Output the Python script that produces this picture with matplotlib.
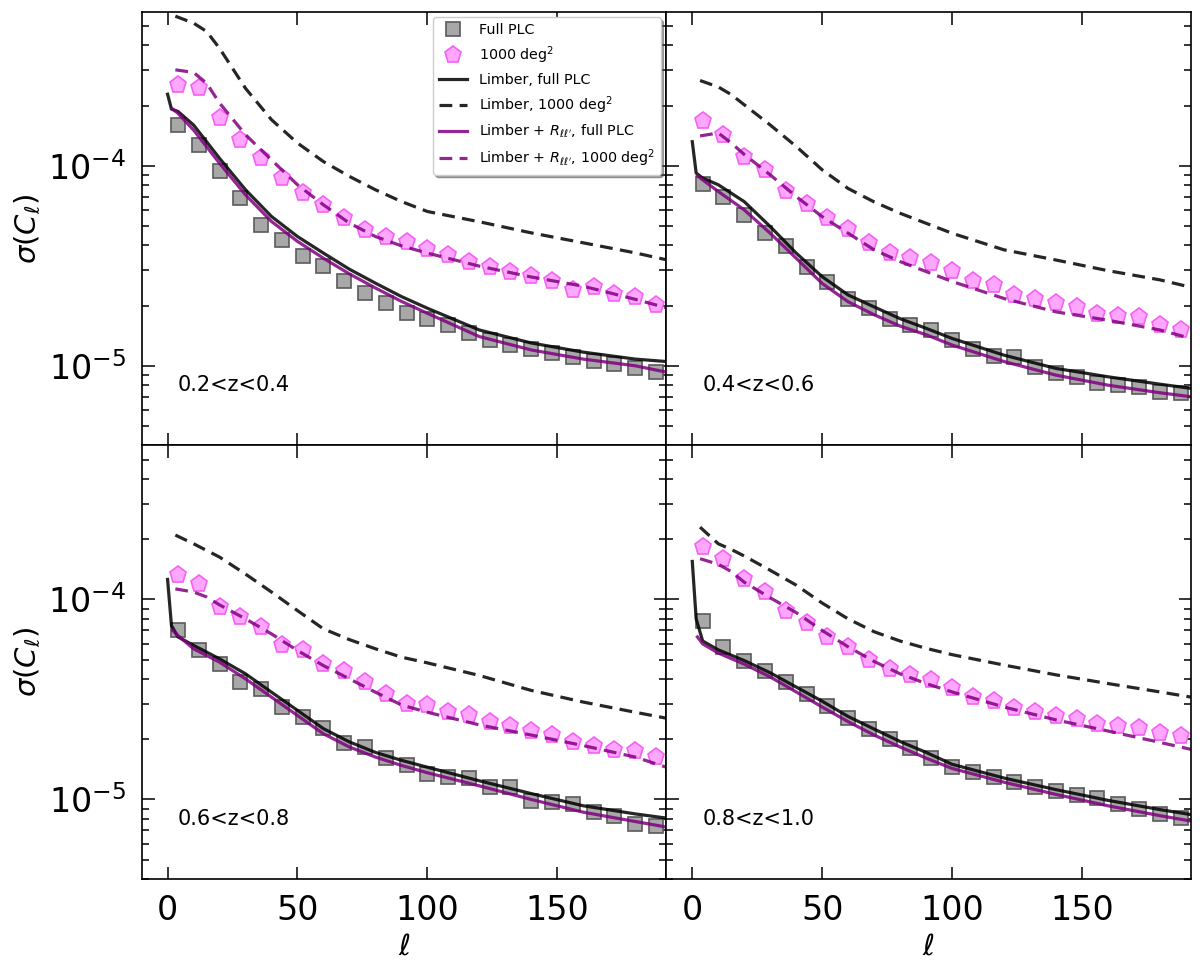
import matplotlib
matplotlib.use("Agg")
import matplotlib.pyplot as plt

# multipole positions
ell_bins = [4, 12, 20, 28, 36, 44, 52, 60, 68, 76, 84, 92, 100, 108, 116, 124,
            132, 140, 148, 156, 164, 172, 180, 188]
ell_solid = [0, 1.5, 4, 10, 20, 30, 40, 50, 60, 70, 80, 90, 100, 120, 140, 160, 180, 192]
ell_rll = [2, 4, 10, 20, 30, 40, 50, 60, 70, 80, 90, 100, 120, 140, 160, 180, 192]
ell_dash = [3, 10, 15, 20, 30, 40, 50, 60, 70, 80, 90, 100, 120, 140, 160, 180, 192]

z_labels = ["0.2<z<0.4", "0.4<z<0.6", "0.6<z<0.8", "0.8<z<1.0"]

# 0.2<z<0.4
full_z1 = [1.60e-4, 1.27e-4, 9.37e-5, 6.9e-5, 5.07e-5, 4.27e-5, 3.55e-5, 3.14e-5, 2.64e-5, 2.31e-5,
           2.06e-5, 1.83e-5, 1.71e-5, 1.60e-5, 1.46e-5, 1.35e-5, 1.27e-5, 1.22e-5, 1.16e-5, 1.11e-5,
           1.06e-5, 1.02e-5, 9.8e-6, 9.3e-6]
deg_z1 = [2.54e-4, 2.44e-4, 1.73e-4, 1.35e-4, 1.09e-4, 8.68e-5, 7.3e-5, 6.38e-5, 5.47e-5, 4.79e-5,
          4.4e-5, 4.14e-5, 3.83e-5, 3.59e-5, 3.31e-5, 3.13e-5, 2.95e-5, 2.82e-5, 2.66e-5, 2.4e-5,
          2.48e-5, 2.29e-5, 2.21e-5, 2.02e-5]
limb_full_z1 = [2.28e-4, 1.92e-4, 1.87e-4, 1.6e-4, 1.09e-4, 7.59e-5, 5.58e-5, 4.43e-5, 3.66e-5,
                3.04e-5, 2.59e-5, 2.22e-5, 1.94e-5, 1.51e-5, 1.30e-5, 1.17e-5, 1.08e-5, 1.05e-5]
limb_deg_z1 = [5.6e-4, 5.17e-4, 4.7e-4, 3.87e-4, 2.44e-4, 1.7e-4, 1.3e-4, 1.05e-4, 8.85e-5, 7.59e-5,
               6.63e-5, 5.91e-5, 5.25e-5, 4.62e-5, 4.12e-5, 3.67e-5, 3.39e-5]
rll_full_z1 = [1.92e-4, 1.83e-4, 1.51e-4, 1.03e-4, 7.16e-5, 5.27e-5, 4.19e-5, 3.45e-5, 2.88e-5,
               2.45e-5, 2.1e-5, 1.83e-5, 1.40e-5, 1.2e-5, 1.08e-5, 1.0e-5, 9.3e-6]
rll_deg_z1 = [3.02e-4, 2.93e-4, 2.59e-4, 2.06e-4, 1.43e-4, 1.07e-4, 8.04e-5, 6.38e-5, 5.17e-5,
              4.43e-5, 3.98e-5, 3.66e-5, 3.15e-5, 2.78e-5, 2.5e-5, 2.15e-5, 1.95e-5]

# 0.4<z<0.6
full_z2 = [8.09e-5, 7.02e-5, 5.69e-5, 4.6e-5, 3.95e-5, 3.13e-5, 2.61e-5, 2.15e-5, 1.94e-5, 1.71e-5,
           1.6e-5, 1.51e-5, 1.35e-5, 1.22e-5, 1.12e-5, 1.11e-5, 9.9e-6, 9.2e-6, 8.8e-6, 8.2e-6,
           8.0e-6, 7.85e-6, 7.41e-6, 7.27e-6]
deg_z2 = [1.67e-4, 1.43e-4, 1.11e-4, 9.48e-5, 7.52e-5, 6.45e-5, 5.47e-5, 4.82e-5, 4.13e-5, 3.66e-5,
          3.45e-5, 3.26e-5, 2.99e-5, 2.64e-5, 2.54e-5, 2.26e-5, 2.15e-5, 2.05e-5, 1.96e-5, 1.82e-5,
          1.77e-5, 1.75e-5, 1.6e-5, 1.51e-5]
limb_full_z2 = [1.32e-4, 9.2e-5, 8.68e-5, 8.04e-5, 6.62e-5, 4.97e-5, 3.66e-5, 2.79e-5, 2.26e-5,
                1.97e-5, 1.72e-5, 1.54e-5, 1.37e-5, 1.13e-5, 9.7e-6, 8.81e-6, 8.09e-6, 7.71e-6]
limb_deg_z2 = [2.67e-4, 2.48e-4, 2.27e-4, 2.02e-4, 1.6e-4, 1.25e-4, 9.55e-5, 7.7e-5, 6.6e-5,
               5.79e-5, 5.16e-5, 4.6e-5, 3.8e-5, 3.38e-5, 2.99e-5, 2.69e-5, 2.47e-5]
rll_full_z2 = [8.91e-5, 8.51e-5, 7.44e-5, 6.02e-5, 4.6e-5, 3.45e-5, 2.58e-5, 2.09e-5, 1.8e-5,
               1.58e-5, 1.43e-5, 1.27e-5, 1.05e-5, 8.98e-6, 8.0e-6, 7.33e-6, 7.0e-6]
rll_deg_z2 = [1.41e-4, 1.46e-4, 1.3e-4, 1.14e-4, 9.01e-5, 7.02e-5, 5.57e-5, 4.6e-5, 3.8e-5,
              3.32e-5, 2.96e-5, 2.64e-5, 2.17e-5, 1.86e-5, 1.69e-5, 1.51e-5, 1.37e-5]

# 0.6<z<0.8
full_z3 = [7.0e-5, 5.56e-5, 4.77e-5, 3.86e-5, 3.57e-5, 2.9e-5, 2.58e-5, 2.27e-5, 1.91e-5, 1.83e-5,
           1.61e-5, 1.49e-5, 1.34e-5, 1.30e-5, 1.28e-5, 1.15e-5, 1.15e-5, 9.77e-6, 9.7e-6, 9.5e-6,
           8.64e-6, 8.3e-6, 7.55e-6, 7.4e-6]
deg_z3 = [1.32e-4, 1.20e-4, 9.15e-5, 8.16e-5, 7.27e-5, 5.93e-5, 5.56e-5, 4.77e-5, 4.41e-5, 3.86e-5,
          3.38e-5, 3.01e-5, 2.97e-5, 2.73e-5, 2.65e-5, 2.45e-5, 2.34e-5, 2.19e-5, 2.09e-5, 1.94e-5,
          1.86e-5, 1.76e-5, 1.74e-5, 1.63e-5]
limb_full_z3 = [1.26e-4, 7.4e-5, 6.5e-5, 5.9e-5, 5.05e-5, 4.25e-5, 3.44e-5, 2.79e-5, 2.26e-5,
                1.94e-5, 1.72e-5, 1.57e-5, 1.45e-5, 1.24e-5, 1.07e-5, 9.3e-6, 8.47e-6, 8.07e-6]
limb_deg_z3 = [2.1e-4, 1.9e-4, 1.76e-4, 1.63e-4, 1.34e-4, 1.09e-4, 8.8e-5, 7.13e-5, 6.3e-5,
               5.67e-5, 5.15e-5, 4.82e-5, 4.17e-5, 3.51e-5, 3.07e-5, 2.73e-5, 2.55e-5]
rll_full_z3 = [7.0e-5, 6.6e-5, 5.67e-5, 4.86e-5, 4.01e-5, 3.25e-5, 2.63e-5, 2.13e-5, 1.83e-5,
               1.63e-5, 1.48e-5, 1.36e-5, 1.17e-5, 1.0e-5, 8.64e-6, 7.76e-6, 7.28e-6]
rll_deg_z3 = [1.13e-4, 1.09e-4, 1.03e-4, 9.4e-5, 8.0e-5, 6.73e-5, 5.56e-5, 4.67e-5, 4.01e-5,
              3.44e-5, 2.97e-5, 2.73e-5, 2.36e-5, 2.1e-5, 1.86e-5, 1.63e-5, 1.45e-5]

# 0.8<z<1.0
full_z4 = [7.8e-5, 5.8e-5, 4.95e-5, 4.4e-5, 3.85e-5, 3.35e-5, 2.95e-5, 2.55e-5, 2.25e-5, 2.0e-5,
           1.8e-5, 1.62e-5, 1.45e-5, 1.37e-5, 1.3e-5, 1.22e-5, 1.16e-5, 1.1e-5, 1.05e-5, 1.02e-5,
           9.5e-6, 9.0e-6, 8.5e-6, 8.1e-6]
deg_z4 = [1.84e-4, 1.59e-4, 1.26e-4, 1.09e-4, 8.75e-5, 7.6e-5, 6.52e-5, 5.79e-5, 5.01e-5, 4.48e-5,
          4.2e-5, 3.95e-5, 3.6e-5, 3.25e-5, 3.12e-5, 2.86e-5, 2.73e-5, 2.62e-5, 2.52e-5, 2.38e-5,
          2.33e-5, 2.28e-5, 2.16e-5, 2.08e-5]
limb_full_z4 = [1.55e-4, 8.0e-5, 6.2e-5, 5.6e-5, 4.95e-5, 4.3e-5, 3.65e-5, 3.1e-5, 2.6e-5,
                2.25e-5, 1.95e-5, 1.72e-5, 1.5e-5, 1.28e-5, 1.12e-5, 9.9e-6, 8.9e-6, 8.4e-6]
limb_deg_z4 = [2.3e-4, 1.9e-4, 1.78e-4, 1.65e-4, 1.4e-4, 1.18e-4, 9.6e-5, 8.0e-5, 6.9e-5,
               6.2e-5, 5.7e-5, 5.3e-5, 4.7e-5, 4.2e-5, 3.8e-5, 3.45e-5, 3.25e-5]
rll_full_z4 = [6.5e-5, 6.0e-5, 5.4e-5, 4.75e-5, 4.1e-5, 3.45e-5, 2.9e-5, 2.45e-5, 2.1e-5,
               1.83e-5, 1.61e-5, 1.43e-5, 1.22e-5, 1.06e-5, 9.3e-6, 8.3e-6, 7.8e-6]
rll_deg_z4 = [1.6e-4, 1.5e-4, 1.38e-4, 1.22e-4, 1.02e-4, 8.6e-5, 7.0e-5, 5.8e-5, 4.9e-5,
              4.25e-5, 3.8e-5, 3.45e-5, 2.9e-5, 2.5e-5, 2.2e-5, 1.93e-5, 1.78e-5]

panels = [
    (full_z1, deg_z1, limb_full_z1, limb_deg_z1, rll_full_z1, rll_deg_z1),
    (full_z2, deg_z2, limb_full_z2, limb_deg_z2, rll_full_z2, rll_deg_z2),
    (full_z3, deg_z3, limb_full_z3, limb_deg_z3, rll_full_z3, rll_deg_z3),
    (full_z4, deg_z4, limb_full_z4, limb_deg_z4, rll_full_z4, rll_deg_z4),
]

fig, axes = plt.subplots(2, 2, figsize=(12, 9.71), dpi=100, sharex=True, sharey=True)
fig.subplots_adjust(left=0.118, right=0.9925, top=0.988, bottom=0.0947, wspace=0, hspace=0)

dash = (4, 2.3)
for i, ax in enumerate(axes.flat):
    full, deg, lf, ld, rf, rd = panels[i]
    ax.plot(ell_bins, full, ls="none", marker="s", ms=10, mfc="#a8a8a8", mec="#5a5a5a",
            mew=1.2, label="Full PLC")
    ax.plot(ell_bins, deg, ls="none", marker="p", ms=12.5, mfc="#ffa6ff", mec="#f560f5",
            mew=1.2, label=r"1000 deg$^2$")
    ax.plot(ell_solid, lf, color="k", alpha=0.85, lw=2.3, label="Limber, full PLC")
    ax.plot(ell_dash, ld, color="k", alpha=0.85, lw=2.3, ls="--", dashes=dash,
            label=r"Limber, 1000 deg$^2$")
    ax.plot(ell_rll, rf, color="purple", alpha=0.85, lw=2.3,
            label=r"Limber + $R_{\ell\ell^\prime}$, full PLC")
    ax.plot(ell_dash, rd, color="purple", alpha=0.85, lw=2.3, ls="--", dashes=dash,
            label=r"Limber + $R_{\ell\ell^\prime}$, 1000 deg$^2$")

    ax.set_yscale("log")
    ax.set_ylim(4.0e-6, 5.9e-4)
    ax.set_xlim(-10, 192)
    ax.set_xticks([0, 50, 100, 150])
    ax.tick_params(which="both", direction="in", top=True, right=True, labelsize=24,
                   width=1.1, pad=11)
    ax.tick_params(which="major", length=9)
    ax.tick_params(which="minor", length=4.8)
    for s in ax.spines.values():
        s.set_linewidth(1.2)
    ax.text(4, 8.0e-6, z_labels[i], fontsize=15, ha="left", va="center")

for ax in axes[:, 0]:
    ax.set_ylabel(r"$\sigma(C_\ell)$", fontsize=21)
for ax in axes[1, :]:
    ax.set_xlabel(r"$\ell$", fontsize=21)

axes[0, 0].legend(loc="upper right", fontsize=10.3, shadow=True, numpoints=1,
                  borderaxespad=0.4)

fig.savefig("out.png", dpi=100)
